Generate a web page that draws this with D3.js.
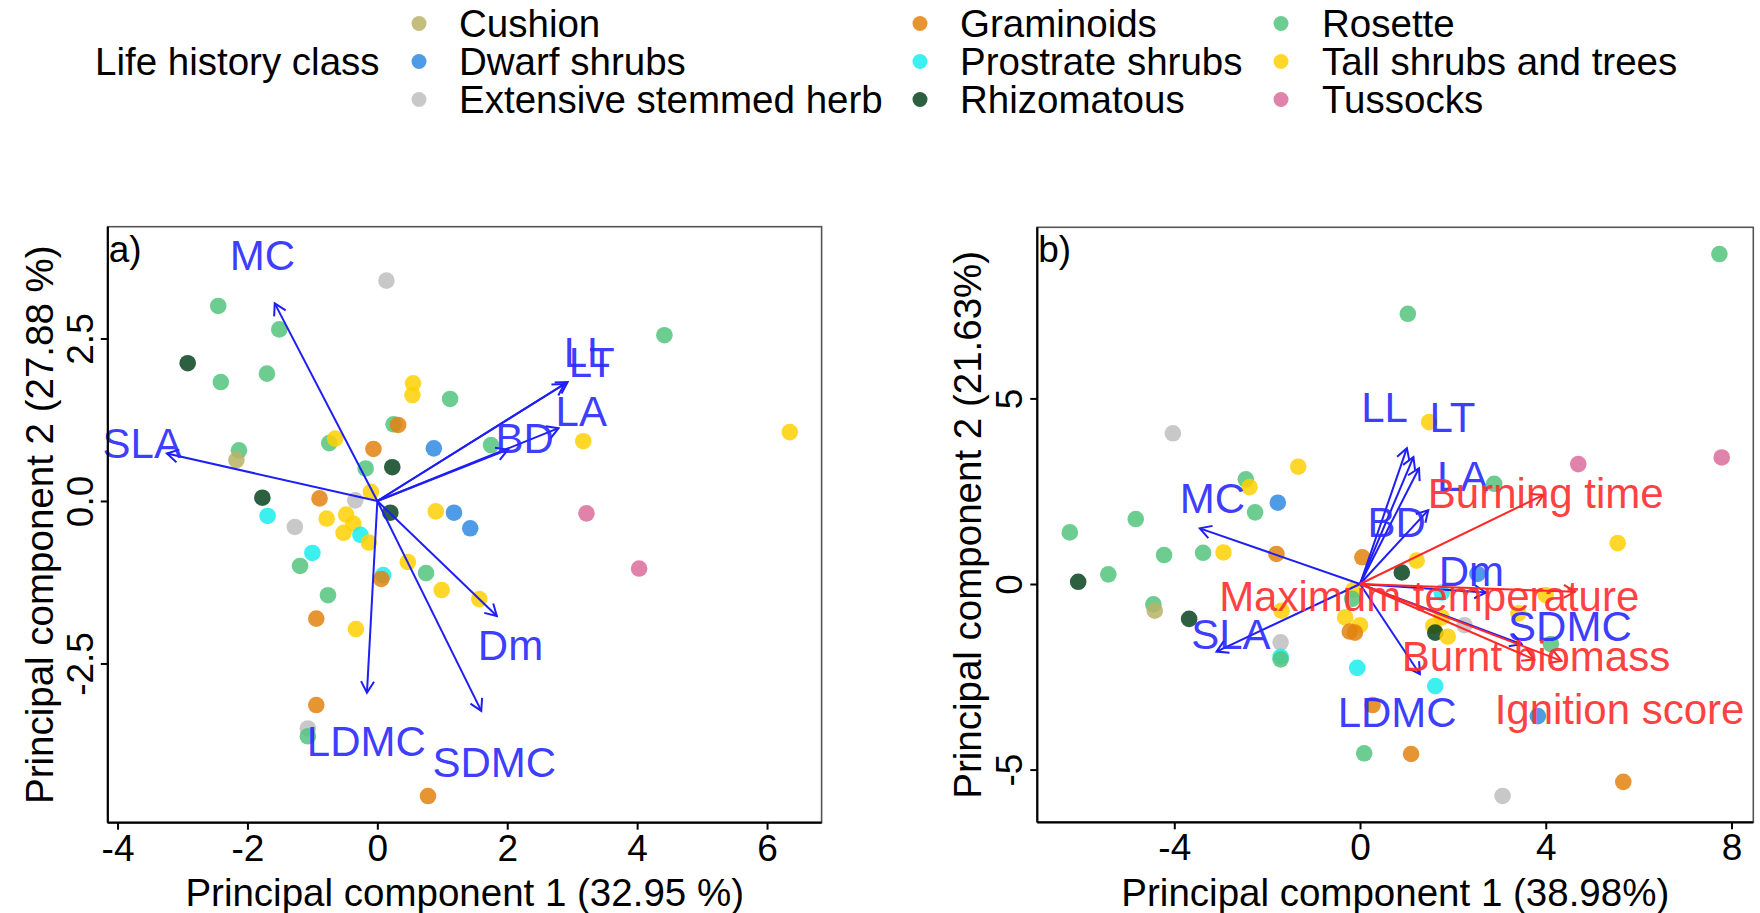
<!DOCTYPE html>
<html>
<head>
<meta charset="utf-8">
<script src="https://cdn.jsdelivr.net/npm/d3@7"></script>
<style>
  body { margin: 0; background: #fff; }
  svg text { font-family: "Liberation Sans", Arial, Helvetica, sans-serif; }
</style>
</head>
<body>
<svg id="chart" width="1760" height="913"></svg>
<script>
// Life history classes and their colours
const classes = ["Cushion", "Dwarf shrubs", "Extensive stemmed herb", "Graminoids",
  "Prostrate shrubs", "Rhizomatous", "Rosette", "Tall shrubs and trees", "Tussocks"];
const classColors = ["#B8B366", "#3189E2", "#BEBEBE", "#E2830E", "#1AEDED",
  "#084320", "#54C47E", "#FFD002", "#DC6C9B"];

// Panel a: species scores (PC1, PC2) and class index
const aPC1 = [0.14, -2.45, -1.51, -2.92, -2.41, -1.70, 0.55, 0.54, 1.12, 0.25, 0.32, -0.74, -0.65, -0.06,
  0.87, -2.13, -2.17, -0.18, 0.23, -0.10, -0.34, -0.89, -1.77, 0.20, -1.69, -1.27, -0.78, -0.48,
  -0.37, -0.52, -0.26, -0.13, -1.00, -1.19, 0.90, 1.18, 1.43, 0.09, 0.06, 0.47, 0.75, 0.99,
  -0.76, -0.94, -0.33, -0.94, -1.07, -1.07, 0.78, 3.22, 4.03, 1.57, 4.42, 1.75, 3.17, 6.35];
const aPC2 = [3.39, 3.00, 2.64, 2.12, 1.83, 1.96, 1.81, 1.63, 1.57, 1.18, 1.17, 0.89, 0.96, 0.80,
  0.81, 0.78, 0.63, 0.50, 0.52, 0.14, 0.01, 0.04, 0.05, -0.18, -0.23, -0.40, -0.27, -0.21,
  -0.35, -0.49, -0.52, -0.64, -0.80, -1.00, -0.16, -0.18, -0.42, -1.14, -1.20, -0.94, -1.11, -1.37,
  -1.45, -1.81, -1.97, -3.14, -3.50, -3.62, -4.54, -0.19, -1.04, -1.51, 2.55, 0.86, 0.92, 1.06];
const aClass = [2, 6, 6, 5, 6, 6, 7, 7, 6, 6, 3, 6, 7, 3,
  1, 6, 0, 6, 5, 7, 2, 3, 5, 5, 4, 2, 7, 7,
  7, 7, 4, 7, 4, 6, 7, 1, 1, 4, 3, 7, 6, 7,
  6, 3, 7, 3, 2, 6, 3, 8, 8, 7, 6, 6, 7, 7];

// Panel a: trait loadings and where their names sit
const aTraits = ["MC", "SLA", "LDMC", "SDMC", "Dm", "LL", "LT", "LA", "BD"];
const aLoadX = [-1.58, -3.24, -0.16, 1.60, 1.84, 2.93, 2.88, 2.79, 2.01];
const aLoadY = [3.04, 0.73, -2.95, -3.23, -1.77, 1.83, 1.80, 1.12, 0.79];
const aNameX = [-1.77, -3.62, -0.17, 1.80, 2.05, 3.23, 3.30, 3.14, 2.27];
const aNameY = [3.78, 0.90, -3.69, -4.02, -2.21, 2.29, 2.14, 1.38, 0.97];

// Panel b: species scores (PC1, PC2) and class index
const bPC1 = [-4.03, -1.33, -2.46, -2.38, -1.77, -2.26, -4.83, -6.25, 7.74, 1.03, 1.49, 4.70, 7.79, 2.89,
  5.55, -4.22, -3.38, -2.94, -1.80, 0.05, -6.07, -5.42, -4.45, -4.42, -3.68, -1.69, -1.71, -1.71,
  -1.71, -0.14, -0.17, -0.32, 0.00, -0.22, -0.11, -0.06, 0.27, 0.09, 0.90, 1.22, 2.53, 1.76,
  4.00, 3.41, 1.76, 1.58, 1.62, 1.89, 2.25, 4.11, 1.62, 3.83, 1.10, 5.67, 3.07];
const bPC2 = [4.06, 3.16, 2.82, 2.61, 2.19, 1.93, 1.75, 1.39, 8.89, 7.28, 4.36, 3.23, 3.41, 2.70,
  1.10, 0.78, 0.84, 0.85, 0.81, 0.72, 0.06, 0.26, -0.55, -0.72, -0.94, -0.72, -1.57, -1.96,
  -2.03, -0.16, -0.40, -0.90, -1.11, -1.28, -1.31, -2.26, -3.26, -4.56, 0.31, 0.63, 0.27, -0.23,
  -0.30, -0.79, -0.90, -1.13, -1.31, -1.42, -1.11, -1.62, -2.75, -3.56, -4.58, -5.33, -5.71];
const bClass = [2, 7, 6, 7, 1, 6, 6, 6, 6, 6, 7, 8, 8, 6,
  7, 6, 6, 7, 3, 3, 5, 6, 6, 0, 5, 7, 2, 4,
  6, 7, 6, 7, 7, 3, 3, 4, 3, 6, 5, 7, 1, 4,
  7, 7, 7, 7, 5, 7, 2, 6, 4, 1, 3, 3, 2];

// Panel b: trait loadings
const bTraits = ["MC", "SLA", "LL", "LT", "LA", "BD", "Dm", "SDMC", "LDMC"];
const bLoadX = [-3.45, -3.09, 1.01, 1.15, 1.27, 1.47, 2.71, 3.48, 1.29];
const bLoadY = [1.50, -1.82, 3.66, 3.42, 3.12, 1.99, -0.23, -1.62, -2.43];
const bNameX = [-3.18, -2.78, 0.53, 1.99, 2.21, 0.79, 2.40, 4.52, 0.80];
const bNameY = [2.33, -1.35, 4.77, 4.49, 2.91, 1.68, 0.36, -1.13, -3.44];

// Panel b: flammability variables (supplementary)
const bFire = ["Burning time", "Maximum temperature", "Burnt biomass", "Ignition score"];
const bFireX = [3.95, 4.63, 3.75, 4.34];
const bFireY = [2.40, -0.21, -2.03, -2.07];
const bFireNameX = [4.00, 1.49, 3.79, 5.59];
const bFireNameY = [2.44, -0.32, -1.95, -3.38];

// Axis ticks and titles
const aXTicks = [-4, -2, 0, 2, 4, 6];
const aYTicks = [-2.5, 0, 2.5];
const bXTicks = [-4, 0, 4, 8];
const bYTicks = [-5, 0, 5];
const aXTitle = "Principal component 1 (32.95 %)";
const aYTitle = "Principal component 2 (27.88 %)";
const bXTitle = "Principal component 1 (38.98%)";
const bYTitle = "Principal component 2 (21.63%)";
const legendTitle = "Life history class";

const FS = { legend: 38.5, tick: 37, title: 38.5, trait: 42, tag: 37 };
const CAP = 0.358; // half cap-height as a fraction of font size

const svg = d3.select("#chart");
svg.append("rect").attr("width", 1760).attr("height", 913).attr("fill", "#fff");

function arrow(g, x0, y0, x1, y1, color) {
  const ang = Math.atan2(y1 - y0, x1 - x0);
  const L = 13, spread = Math.PI / 6;
  const h1 = [x1 - L * Math.cos(ang - spread), y1 - L * Math.sin(ang - spread)];
  const h2 = [x1 - L * Math.cos(ang + spread), y1 - L * Math.sin(ang + spread)];
  g.append("line").attr("x1", x0).attr("y1", y0).attr("x2", x1).attr("y2", y1)
    .attr("stroke", color).attr("stroke-width", 2);
  g.append("path").attr("d", `M${h1[0]},${h1[1]}L${x1},${y1}L${h2[0]},${h2[1]}`)
    .attr("fill", "none").attr("stroke", color).attr("stroke-width", 2);
}

function drawPanel(p) {
  const g = svg.append("g");
  const x = d3.scaleLinear().domain(p.xDomain).range(p.xRange);
  const y = d3.scaleLinear().domain(p.yDomain).range(p.yRange);

  // species points
  const pts = p.pc1.map((v, i) => ({ x: v, y: p.pc2[i], c: p.cls[i] }));
  g.append("g").selectAll("circle").data(pts).join("circle")
    .attr("cx", d => x(d.x)).attr("cy", d => y(d.y)).attr("r", 8.3)
    .attr("fill", d => classColors[d.c]).attr("fill-opacity", 0.85);

  // loading arrows and names
  const ag = g.append("g");
  const sets = [{ names: p.traits, lx: p.loadX, ly: p.loadY, nx: p.nameX, ny: p.nameY,
    line: "#1E1EF5", text: "#2B2BFF" }];
  if (p.fire) sets.push({ names: p.fire, lx: p.fireX, ly: p.fireY, nx: p.fireNameX, ny: p.fireNameY,
    line: "#FF2828", text: "#FF2E2E" });
  sets.forEach(s => {
    s.names.forEach((n, i) => arrow(ag, x(0), y(0), x(s.lx[i]), y(s.ly[i]), s.line));
  });
  sets.forEach(s => {
    ag.append("g").selectAll("text").data(s.names).join("text")
      .attr("x", (d, i) => x(s.nx[i]))
      .attr("y", (d, i) => y(s.ny[i]) + CAP * FS.trait)
      .attr("text-anchor", "middle").attr("font-size", FS.trait)
      .attr("fill", s.text).attr("fill-opacity", 0.92).text(d => d);
  });

  // frame
  const [xl, xr] = p.xRange, [yb, yt] = p.yRange;
  g.append("rect").attr("x", xl).attr("y", yt).attr("width", xr - xl).attr("height", yb - yt)
    .attr("fill", "none").attr("stroke", "#555").attr("stroke-width", 1.6);
  g.append("line").attr("x1", xl).attr("x2", xr).attr("y1", yb).attr("y2", yb)
    .attr("stroke", "#000").attr("stroke-width", 2.2);
  g.append("line").attr("x1", xl).attr("x2", xl).attr("y1", yt).attr("y2", yb)
    .attr("stroke", "#000").attr("stroke-width", 2.2);

  // axes
  const gx = g.append("g").attr("transform", `translate(0,${yb})`)
    .call(d3.axisBottom(x).tickValues(p.xTicks).tickSize(7).tickFormat(d => String(d)));
  gx.select(".domain").remove();
  gx.attr("font-family", null).attr("font-size", FS.tick);
  gx.selectAll(".tick line").attr("stroke", "#000").attr("stroke-width", 2);
  gx.selectAll(".tick text").attr("y", 38).attr("dy", null).attr("fill", "#000");

  const gy = g.append("g").attr("transform", `translate(${xl},0)`)
    .call(d3.axisLeft(y).tickValues(p.yTicks).tickSize(7).tickFormat(p.yFmt));
  gy.select(".domain").remove();
  gy.attr("font-family", null).attr("font-size", FS.tick);
  gy.selectAll(".tick line").attr("stroke", "#000").attr("stroke-width", 2);
  gy.selectAll(".tick text").attr("transform", "rotate(-90)").attr("x", 0).attr("y", -15)
    .attr("dy", null).attr("text-anchor", "middle").attr("fill", "#000");

  // titles
  g.append("text").attr("x", (xl + xr) / 2).attr("y", 906).attr("text-anchor", "middle")
    .attr("font-size", FS.title).text(p.xTitle);
  g.append("text").attr("transform", `translate(${p.yTitleX},${(yt + yb) / 2}) rotate(-90)`)
    .attr("text-anchor", "middle").attr("font-size", FS.title).text(p.yTitle);

  // panel tag
  g.append("text").attr("x", xl + 1).attr("y", 262).attr("font-size", FS.tag).text(p.tag);
}

drawPanel({
  tag: "a)", xDomain: [-4.15, 6.84], xRange: [107.8, 821.6],
  yDomain: [-4.95, 4.22], yRange: [822.7, 226.7],
  pc1: aPC1, pc2: aPC2, cls: aClass,
  traits: aTraits, loadX: aLoadX, loadY: aLoadY, nameX: aNameX, nameY: aNameY,
  xTicks: aXTicks, yTicks: aYTicks, yFmt: d => d.toFixed(1),
  xTitle: aXTitle, yTitle: aYTitle, yTitleX: 53
});

drawPanel({
  tag: "b)", xDomain: [-6.95, 8.47], xRange: [1037.3, 1753.3],
  yDomain: [-6.42, 9.61], yRange: [822.3, 227.3],
  pc1: bPC1, pc2: bPC2, cls: bClass,
  traits: bTraits, loadX: bLoadX, loadY: bLoadY, nameX: bNameX, nameY: bNameY,
  fire: bFire, fireX: bFireX, fireY: bFireY, fireNameX: bFireNameX, fireNameY: bFireNameY,
  xTicks: bXTicks, yTicks: bYTicks, yFmt: d => String(d),
  xTitle: bXTitle, yTitle: bYTitle, yTitleX: 981
});

// legend: three columns of three entries
const lg = svg.append("g");
const rowY = [23.5, 61.5, 99.5];
const colDotX = [419, 920, 1281];
const colTextX = [459, 960, 1322];
lg.append("text").attr("x", 95).attr("y", rowY[1] + CAP * FS.legend)
  .attr("font-size", FS.legend).text(legendTitle);
const items = lg.selectAll("g.item").data(classes).join("g")
  .attr("transform", (d, i) => `translate(0,${rowY[i % 3]})`);
items.append("circle").attr("cx", (d, i) => colDotX[Math.floor(i / 3)]).attr("cy", 0).attr("r", 7.5)
  .attr("fill", (d, i) => classColors[i]).attr("fill-opacity", 0.85);
items.append("text").attr("x", (d, i) => colTextX[Math.floor(i / 3)]).attr("y", CAP * FS.legend)
  .attr("font-size", FS.legend).text(d => d);
</script>
</body>
</html>
